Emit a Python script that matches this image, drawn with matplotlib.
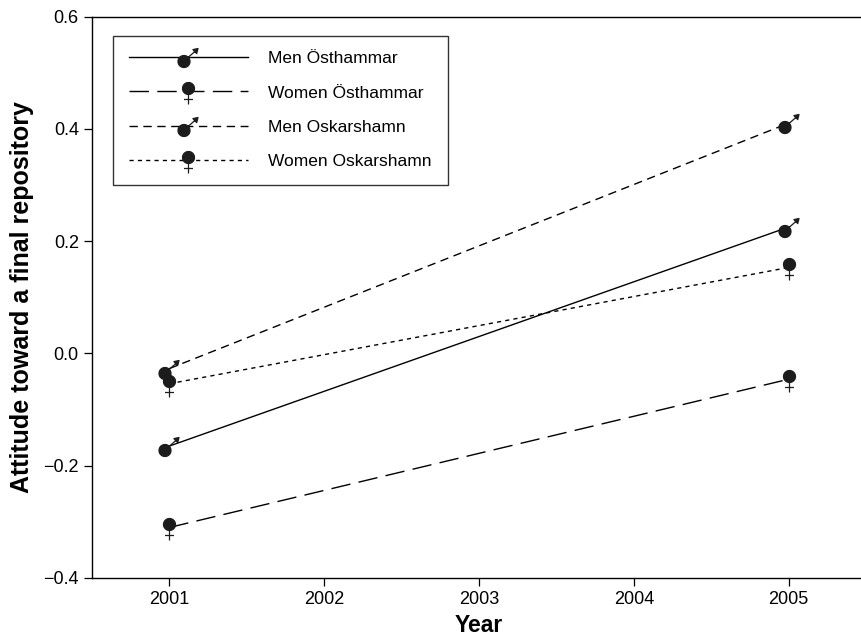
import numpy as np
import matplotlib
matplotlib.use("Agg")
import matplotlib.pyplot as plt
from matplotlib.path import Path

plt.rcParams['font.family'] = ['Liberation Sans', 'DejaVu Sans']

years = [2001, 2005]
men_osthammar = [-0.165, 0.225]
women_osthammar = [-0.31, -0.046]
men_oskarshamn = [-0.027, 0.41]
women_oskarshamn = [-0.054, 0.153]
labels = ['Men Östhammar', 'Women Östhammar', 'Men Oskarshamn', 'Women Oskarshamn']
xticks = [2001, 2002, 2003, 2004, 2005]
yticks = [-0.4, -0.2, 0.0, 0.2, 0.4, 0.6]


def circle_verts(cx, cy, r, n=40):
    t = np.linspace(0, 2 * np.pi, n, endpoint=False)
    pts = [(cx + r * np.cos(a), cy + r * np.sin(a)) for a in t]
    return pts + [pts[0]], [Path.MOVETO] + [Path.LINETO] * (n - 1) + [Path.CLOSEPOLY]


def male_marker():
    # filled circle, shaft and arrowhead pointing up-right (units: pixels)
    v, c = circle_verts(-4.5, -4.0, 6.0)
    v += [(-0.3, 0.2), (6.3, 5.9)]
    c += [Path.MOVETO, Path.LINETO]
    v += [(9.5, 9.0), (4.4, 7.9), (8.2, 3.9), (9.5, 9.0)]
    c += [Path.MOVETO, Path.LINETO, Path.LINETO, Path.CLOSEPOLY]
    return Path(v, c)


def female_marker():
    # filled circle with a cross below
    v, c = circle_verts(0.0, 3.0, 6.0)
    v += [(0.0, -3.0), (0.0, -13.0), (-4.5, -8.0), (4.5, -8.0)]
    c += [Path.MOVETO, Path.LINETO, Path.MOVETO, Path.LINETO]
    return Path(v, c)


def msize(p):
    # marker paths get scaled so the largest coordinate lands at half the size
    return 1.44 * np.max(np.abs(p.vertices))


male = male_marker()
female = female_marker()

fig = plt.figure(figsize=(8.61, 6.43), dpi=100)
ax = fig.add_axes([92 / 861, 65 / 643, 774 / 861, 561.5 / 643])

series = [
    (men_osthammar, male, (None, None)),
    (women_osthammar, female, (14, 6)),
    (men_oskarshamn, male, (6, 4)),
    (women_oskarshamn, female, (3, 3)),
]
for (vals, mk, dash), lab in zip(series, labels):
    line, = ax.plot(years, vals, color='black', lw=1.0, marker=mk,
                    markersize=msize(mk), markerfacecolor='#1c1c1c',
                    markeredgecolor='#1c1c1c', markeredgewidth=0.9, label=lab)
    if dash[0] is not None:
        line.set_dashes(dash)

ax.set_xlim(2000.5, 2005.5)
ax.set_ylim(-0.4, 0.6)
ax.set_xticks(xticks)
ax.set_yticks(yticks)
ax.set_yticklabels(['%.1f' % v if v >= 0 else '\u2212%.1f' % -v for v in yticks])
ax.tick_params(direction='out', length=6, width=0.9, labelsize=13, colors='black')
for s in ax.spines.values():
    s.set_linewidth(1.0)

ax.set_xlabel('Year', fontsize=16.5, fontweight='bold', labelpad=4)
ax.set_ylabel('Attitude toward a final repository', fontsize=18,
              fontweight='bold', labelpad=7)

leg = ax.legend(loc='upper left', bbox_to_anchor=(21 / 774, 1 - 19 / 561.5),
                borderaxespad=0, numpoints=1, handlelength=6.85,
                handletextpad=1.2, labelspacing=1.1, borderpad=0.9,
                fontsize=12.5, fancybox=False, frameon=True)
leg.get_frame().set_edgecolor('black')
leg.get_frame().set_linewidth(1.0)

fig.savefig('out.png', dpi=100)
